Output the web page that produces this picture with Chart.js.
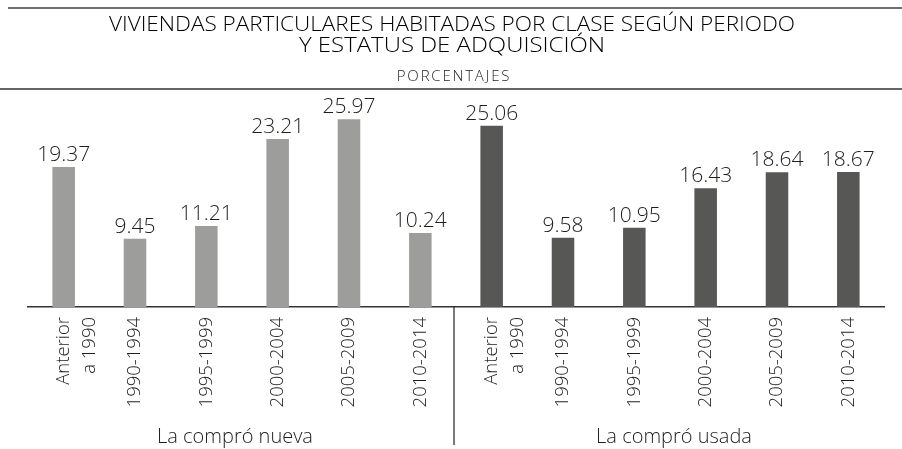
<!DOCTYPE html>
<html><head><meta charset="utf-8">
<script src="https://cdn.jsdelivr.net/npm/chart.js@4/dist/chart.umd.min.js"></script>
<style>html,body{margin:0;padding:0;background:#fff}#wrap{width:902px;height:449px;position:relative}</style>
</head><body><div id="wrap"><canvas id="c"></canvas></div>
<script>
const periods = [['Anterior','a 1990'],'1990-1994','1995-1999','2000-2004','2005-2009','2010-2014'];
const groups = ['La compró nueva','La compró usada'];
const nueva = [19.37, 9.45, 11.21, 23.21, 25.97, 10.24];
const usada = [25.06, 9.58, 10.95, 16.43, 18.64, 18.67];
const titleLines = ['VIVIENDAS PARTICULARES HABITADAS POR CLASE SEGÚN PERIODO', 'Y ESTATUS DE ADQUISICIÓN'];
const subtitle = 'PORCENTAJES';
const groupColors = ['#9d9d9c', '#575756'];

const labels = periods.concat(periods);
const values = nueva.concat(usada);
const barColors = nueva.map(() => groupColors[0]).concat(usada.map(() => groupColors[1]));

const FONT = "'Open Sans', Lato, sans-serif";
const TEXT = '#1d1d1b';

const deco = {
  id: 'deco',
  afterDraw(chart) {
    const ctx = chart.ctx;
    const xs = chart.scales.x;
    const area = chart.chartArea;
    ctx.save();
    // top rule
    ctx.strokeStyle = '#6f6f6e'; ctx.lineWidth = 2;
    ctx.beginPath(); ctx.moveTo(8, 8); ctx.lineTo(902, 8); ctx.stroke();
    // rule under subtitle
    ctx.strokeStyle = '#333'; ctx.lineWidth = 1.5;
    ctx.beginPath(); ctx.moveTo(0, 89); ctx.lineTo(902, 89); ctx.stroke();
    // titles
    ctx.fillStyle = '#000';
    ctx.textAlign = 'center'; ctx.textBaseline = 'alphabetic';
    ctx.font = "300 20px " + FONT;
    const targets = [686, 306];
    const baselines = [31, 52];
    titleLines.forEach((t, i) => {
      const w = ctx.measureText(t).width;
      const s = targets[i] / w;
      ctx.save();
      ctx.translate(452, baselines[i]);
      ctx.scale(s, 1);
      ctx.fillText(t, 0, 0);
      ctx.restore();
    });
    ctx.font = "300 15px " + FONT;
    ctx.fillStyle = TEXT;
    if ('letterSpacing' in ctx) ctx.letterSpacing = '1.8px';
    ctx.fillText(subtitle, 454, 81);
    if ('letterSpacing' in ctx) ctx.letterSpacing = '0px';
    // value labels
    const meta = chart.getDatasetMeta(0);
    ctx.font = "300 21px " + FONT;
    ctx.fillStyle = TEXT;
    meta.data.forEach((bar, i) => {
      ctx.fillText(values[i].toFixed(2), bar.x, bar.y - 6);
    });
    // separator
    const n = periods.length;
    const sepX = (xs.getPixelForValue(n - 1) + xs.getPixelForValue(n)) / 2 - 2;
    ctx.strokeStyle = '#222'; ctx.lineWidth = 1.2;
    ctx.beginPath(); ctx.moveTo(sepX, area.bottom); ctx.lineTo(sepX, 445); ctx.stroke();
    // group labels
    ctx.font = "300 20px " + FONT;
    ctx.fillStyle = TEXT;
    const shift = [-7, 4];
    groups.forEach((g, gi) => {
      const cx = (xs.getPixelForValue(gi * n) + xs.getPixelForValue(gi * n + n - 1)) / 2 + shift[gi];
      ctx.fillText(g, cx, 443);
    });
    ctx.restore();
  }
};

new Chart(document.getElementById('c'), {
  type: 'bar',
  data: {
    labels: labels,
    datasets: [{
      data: values,
      backgroundColor: barColors,
      barPercentage: 0.316,
      categoryPercentage: 1
    }]
  },
  options: {
    responsive: true,
    maintainAspectRatio: false,
    animation: false,
    layout: { padding: { top: 90, left: 28, right: 18, bottom: 0 } },
    plugins: { legend: { display: false }, tooltip: { enabled: false }, title: { display: false } },
    scales: {
      x: {
        grid: { display: false, drawTicks: false },
        border: { display: true, color: '#333', width: 1.5 },
        ticks: {
          maxRotation: 90, minRotation: 90, autoSkip: false, padding: 10,
          color: TEXT,
          font: { family: FONT, size: 18.5, weight: '300', lineHeight: 1.4 }
        },
        afterFit: (s) => { s.height = 142; }
      },
      y: { display: false, min: 0, max: 30 }
    }
  },
  plugins: [deco]
});
</script>
</body></html>
